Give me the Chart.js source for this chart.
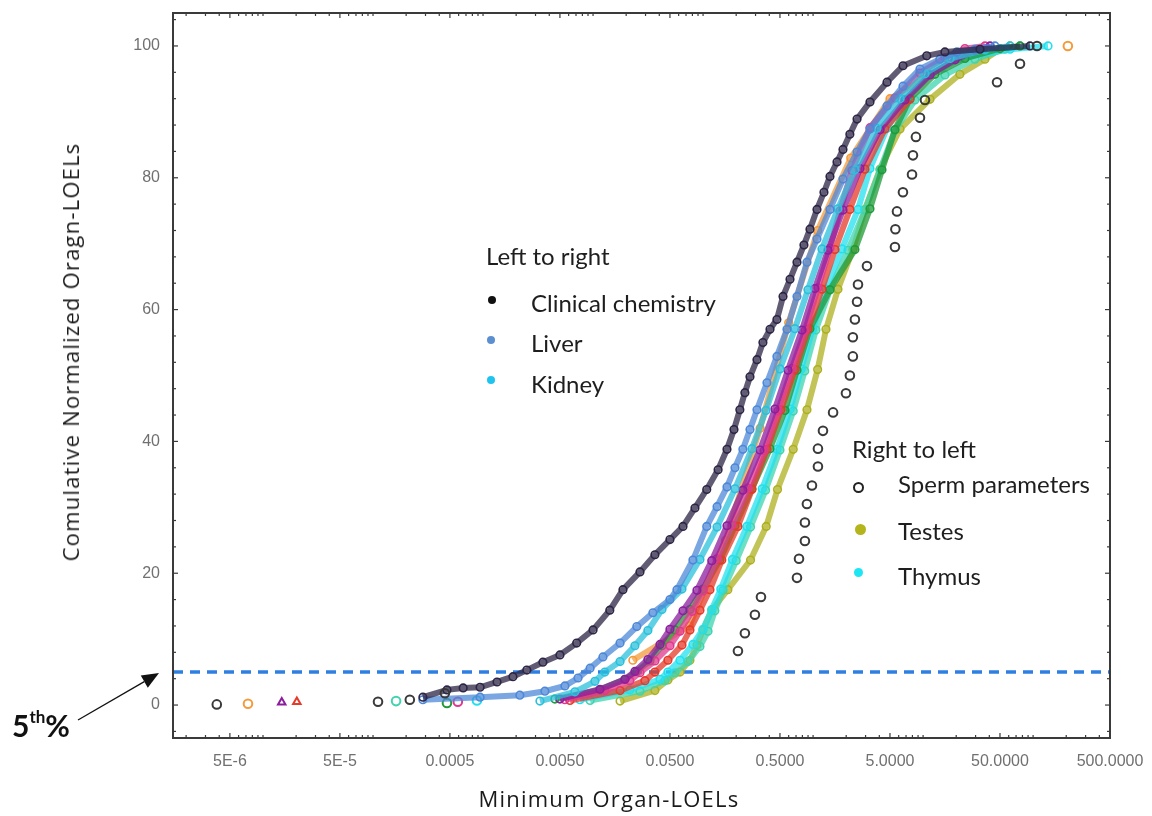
<!DOCTYPE html>
<html>
<head>
<meta charset="utf-8">
<script src="https://cdn.jsdelivr.net/npm/chart.js@4.4.1/dist/chart.umd.min.js"></script>
<style>
html,body{margin:0;padding:0;background:#fff;}
#wrap{position:relative;width:1152px;height:816px;overflow:hidden;background:#fff;}
canvas{position:absolute;left:0;top:0;}
.t{position:absolute;white-space:nowrap;color:#1e1e1e;line-height:1;}
.lg{font-family:Lato,sans-serif;font-size:24px;}
.ax{font-family:"Open Sans",sans-serif;font-size:22px;letter-spacing:1.2px;color:#1a1a1a;}
.dot{position:absolute;width:8px;height:8px;border-radius:50%;}
.ring{position:absolute;width:11px;height:11px;border-radius:50%;border:2px solid #222;box-sizing:border-box;}
</style>
</head>
<body>
<div id="wrap">
<canvas id="c" width="1152" height="816"></canvas>

<div class="t ax" style="left:609px;top:787px;transform:translateX(-50%);">Minimum Organ-LOELs</div>
<div class="t ax" style="left:70px;top:352px;transform:translate(-50%,-50%) rotate(-90deg);">Comulative Normalized Oragn-LOELs</div>

<div class="t lg" style="left:486px;top:244px">Left to right</div>
<div class="dot" style="left:488px;top:296px;background:#111"></div>
<div class="t lg" style="left:531px;top:291px">Clinical chemistry</div>
<div class="dot" style="left:487px;top:336px;background:#5b8fd0"></div>
<div class="t lg" style="left:531px;top:331px">Liver</div>
<div class="dot" style="left:487px;top:376px;background:#1fc3f0"></div>
<div class="t lg" style="left:531px;top:372px">Kidney</div>

<div class="t lg" style="left:852px;top:437px">Right to left</div>
<div class="ring" style="left:853px;top:482px"></div>
<div class="t lg" style="left:898px;top:472px">Sperm parameters</div>
<div class="dot" style="left:855px;top:524px;width:11px;height:11px;background:#b4b41c"></div>
<div class="t lg" style="left:898px;top:519px">Testes</div>
<div class="dot" style="left:854px;top:568px;width:9px;height:9px;background:#1ce6f4"></div>
<div class="t lg" style="left:898px;top:564px">Thymus</div>

<div class="t" style="left:12px;top:710px;font-family:Lato,sans-serif;font-weight:bold;font-size:30px;color:#111;">5<span style="font-size:17px;position:relative;top:-14px;">th</span>%</div>
</div>

<script>
// ---------- axis settings ----------
const X_MIN = 1.52e-6, X_MAX = 500, Y_MIN = -5, Y_MAX = 105;
const xTickValues = [5e-6, 5e-5, 5e-4, 5e-3, 0.05, 0.5, 5, 50, 500];
const xTickLabels = ['5E-6', '5E-5', '0.0005', '0.0050', '0.0500', '0.5000', '5.0000', '50.0000', '500.0000'];
const yTickValues = [0, 20, 40, 60, 80, 100];
const FIFTH = 5;

// ---------- data: [x, cumulative %] ----------
const sperm = [[0.2075,8.2],[0.240,10.9],[0.296,13.7],[0.336,16.4],[0.714,19.3],[0.745,22.2],[0.843,24.9],[0.843,27.7],[0.879,30.5],[0.977,33.3],[1.107,36.2],[1.107,38.9],[1.23,41.6],[1.52,44.4],[1.99,47.3],[2.16,50.0],[2.30,52.9],[2.30,55.8],[2.40,58.5],[2.51,61.2],[2.56,63.8],[3.09,66.6],[5.55,69.5],[5.60,72.2],[5.79,74.9],[6.56,77.8],[7.93,80.5],[8.09,83.4],[8.61,86.2],[9.37,89.1],[10.4,91.8],[47.0,94.5],[76.0,97.3],[108.5,100]];
const spermTail = [[3.8e-6,0.1],[1.11e-4,0.5],[2.16e-4,0.8],[4.5e-4,1.8]];

const clinical = [[2.84e-4,1.2],[4.7e-4,2.3],[6.6e-4,2.6],[9.4e-4,2.7],[1.34e-3,3.5],[1.87e-3,4.3],[2.5e-3,5.3],[3.5e-3,6.5],[5.0e-3,7.6],[7.1e-3,9.4],[0.0100,11.4],[0.0142,14.4],[0.0187,17.5],[0.0267,20.2],[0.0365,22.8],[0.050,25.1],[0.0657,27.1],[0.0844,29.9],[0.108,32.7],[0.137,35.7],[0.165,38.8],[0.191,41.8],[0.216,44.8],[0.240,47.4],[0.267,49.8],[0.309,52.4],[0.350,55.0],[0.406,57.0],[0.469,58.5],[0.533,62.0],[0.617,64.6],[0.714,67.2],[0.826,69.8],[0.937,72.2],[1.085,75.2],[1.256,77.8],[1.424,80.2],[1.65,82.4],[1.87,84.3],[2.16,86.6],[2.51,88.9],[3.29,91.5],[4.70,94.5],[6.57,97.0],[10.8,98.5],[15.8,99.1],[32.9,99.5],[93.7,100]];

const liver = [[2.84e-4,0.8],[9.4e-4,1.2],[2.16e-3,1.5],[3.65e-3,2.1],[5.55e-3,2.9],[7.3e-3,4.1],[9.4e-3,5.6],[0.0123,7.3],[0.0176,9.4],[0.025,11.9],[0.035,14.0],[0.05,16.0],[0.0579,17.5],[0.0809,22.0],[0.108,27.1],[0.134,30.1],[0.165,33.1],[0.195,36.0],[0.230,38.8],[0.267,41.8],[0.309,44.8],[0.381,48.9],[0.469,52.9],[0.579,57.0],[0.714,62.0],[0.880,67.2],[1.085,70.7],[1.424,75.2],[1.87,79.8],[2.51,83.9],[3.29,87.4],[4.70,90.9],[6.57,93.9],[9.37,96.5],[14.2,98.0],[20.3,99.1],[29.6,99.5],[45.0,100]];

const kidney = [[3.29e-3,0.6],[6.84e-3,2.0],[0.0104,3.6],[0.0128,5.0],[0.0176,6.6],[0.0240,9.0],[0.0315,11.3],[0.0423,14.5],[0.0643,17.6],[0.0937,22.1],[0.134,27.0],[0.195,32.8],[0.278,38.9],[0.373,44.7],[0.5,51.0],[0.684,57.1],[0.898,63.0],[1.204,69.2],[1.684,75.3],[2.40,81.2],[3.81,87.5],[6.17,92.0],[10.4,95.8],[17.6,98.1],[36.5,99.4],[61.7,100]];

const magenta = [[5e-3,0.9],[0.01155,2.4],[0.0195,3.9],[0.0240,5.1],[0.0315,6.9],[0.0406,9.2],[0.05,11.5],[0.0657,14.3],[0.0880,17.4],[0.120,21.9],[0.165,27.2],[0.230,32.6],[0.329,38.7],[0.450,44.9],[0.591,50.8],[0.793,56.9],[1.04,63.2],[1.366,69.0],[1.87,75.1],[2.67,81.4],[4.06,87.3],[6.84,91.8],[11.55,95.6],[19.5,97.9],[29.6,99.3],[40.6,100]];
const magentaTail = [[1.48e-5,0.4]];

const pink = [[5.55e-3,0.8],[0.0128,2.2],[0.0216,3.7],[0.0267,4.9],[0.0365,6.7],[0.05,9.0],[0.0617,11.2],[0.0793,14.2],[0.0998,17.3],[0.134,22.2],[0.183,27.3],[0.256,32.9],[0.358,38.6],[0.479,44.6],[0.643,51.1],[0.844,56.8],[1.108,63.3],[1.424,69.3],[1.756,75.0],[2.257,81.1],[3.29,87.6],[5.55,92.1],[9.37,95.9],[15.8,98.2],[24.0,99.6],[36.5,100]];
const pinkTail = [[5.9e-4,0.5]];

const red = [[6.17e-3,0.7],[0.0176,2.2],[0.0296,3.7],[0.0365,5.0],[0.0479,6.8],[0.0643,9.1],[0.0760,11.4],[0.0937,14.4],[0.1155,17.5],[0.148,22.0],[0.2075,27.1],[0.278,32.7],[0.381,38.8],[0.510,44.8],[0.684,50.9],[0.898,57.0],[1.204,63.1],[1.581,69.1],[2.16,75.2],[2.96,81.3],[4.50,87.4],[7.60,91.9]];
const redTail = [[2.03e-5,0.5]];

const green = [[4.5e-3,0.9],[0.01155,2.3],[0.0195,3.9],[0.025,5.1],[0.0329,6.7],[0.0423,9.0],[0.0555,11.4],[0.0760,14.5],[0.0998,17.6],[0.142,22.0],[0.195,27.2],[0.278,32.8],[0.406,38.9],[0.555,44.7],[0.714,50.8],[0.937,57.1],[1.424,63.0],[2.40,69.1],[3.29,75.3],[4.23,81.2],[5.55,87.3],[7.60,92.0],[12.8,95.7],[24.0,98.1],[50,99.6],[76.0,100]];
const greenTail = [[4.7e-4,0.3]];

const thymus = [[7.6e-3,0.8],[0.0216,2.3],[0.0406,3.9],[0.0479,5.0],[0.0617,6.8],[0.0809,9.2],[0.0998,11.5],[0.120,14.5],[0.145,17.6],[0.185,22.1],[0.250,27.1],[0.345,32.8],[0.47,38.8],[0.62,44.9],[0.78,51.0],[0.99,57.0],[1.31,63.1],[1.83,69.2],[2.56,75.2],[3.29,81.4],[4.70,87.5],[6.84,91.9],[11.55,95.7],[21.6,98.1],[61.7,99.5],[136.6,100]];
const thymusTail = [[8.8e-4,0.7]];

const teal = [[9.4e-3,0.7],[0.0267,2.1],[0.0450,3.7],[0.0555,4.9],[0.0729,6.6],[0.0937,8.9],[0.111,11.2],[0.128,14.3],[0.152,17.4],[0.200,21.9],[0.270,27.0],[0.370,32.6],[0.50,38.7],[0.66,44.6],[0.84,50.7],[1.06,56.9],[1.424,63.0],[2.075,69.0],[2.96,75.1],[4.06,81.2],[5.55,87.2],[8.43,91.8],[15.8,95.6],[29.6,98.0],[55.5,99.5],[76.0,100]];
const tealTail = [[1.62e-4,0.6]];

const testes = [[0.0176,0.6],[0.0365,2.2],[0.0479,3.8],[0.0617,5.0],[0.0760,6.8],[0.0880,9.1],[0.0998,11.4],[0.120,14.4],[0.168,17.5],[0.270,22.0],[0.375,27.1],[0.475,32.7],[0.66,38.8],[0.88,44.8],[1.10,50.9],[1.31,57.0],[1.684,63.1],[2.30,69.1],[2.96,75.2],[4.06,81.3],[6.17,87.4],[11.55,91.9],[21.6,95.7],[36.5,98.0],[50,99.5],[61.7,100]];

const orange = [[0.0230,6.8],[0.075,12],[0.16,25],[0.33,42],[0.6,58],[1.1,72],[2.2,83],[5.0,92],[20,98]];
const orangeTail = [[7.3e-6,0.2],[207,100]];

// ---------- series styling (index 0 drawn on top) ----------
const series = [
  {name:'Sperm parameters', pts:sperm, tail:spermTail, color:'#3a3a3a', line:false},
  {name:'Clinical chemistry', pts:clinical, tail:[], color:'#2c2545', line:true},
  {name:'Liver', pts:liver, tail:[], color:'#4d88d8', line:true},
  {name:'Kidney', pts:kidney, tail:[], color:'#2bc0dc', line:true},
  {name:'Organ A', pts:magenta, tail:magentaTail, tailStyle:'triangle', color:'#8c1e9e', line:true},
  {name:'Organ B', pts:pink, tail:pinkTail, color:'#e1388f', line:true},
  {name:'Organ C', pts:red, tail:redTail, tailStyle:'triangle', color:'#e63a2a', line:true},
  {name:'Organ D', pts:green, tail:greenTail, color:'#209a38', line:true},
  {name:'Thymus', pts:thymus, tail:thymusTail, color:'#23e0ef', line:true},
  {name:'Organ E', pts:teal, tail:tealTail, color:'#3fd4b0', line:true},
  {name:'Testes', pts:testes, tail:[], color:'#adb01f', line:true},
  {name:'Organ F', pts:orange, tail:orangeTail, color:'#f39b3b', line:true}
];

function hexA(hex, a){
  const n = parseInt(hex.slice(1),16);
  return 'rgba(' + ((n>>16)&255) + ',' + ((n>>8)&255) + ',' + (n&255) + ',' + a + ')';
}
const toXY = a => a.map(p => ({x:p[0], y:p[1]}));

const datasets = [];
series.forEach(s => {
  datasets.push({
    label: s.name, data: toXY(s.pts), showLine: s.line,
    borderColor: s.line ? hexA(s.color, 0.75) : s.color,
    borderWidth: s.line ? 6 : 0, tension: 0,
    pointStyle: 'circle', pointRadius: s.line ? 3.8 : 4.3,
    pointBorderColor: s.color, pointBorderWidth: s.line ? 1.6 : 2,
    pointBackgroundColor: 'rgba(255,255,255,0)'
  });
  if (s.tail.length) {
    datasets.push({
      label: s.name + ' (low)', data: toXY(s.tail), showLine: false,
      pointStyle: s.tailStyle || 'circle', pointRadius: 4.3,
      pointBorderColor: s.color, pointBorderWidth: 2,
      pointBackgroundColor: 'rgba(255,255,255,0)'
    });
  }
});
datasets.push({
  label: '5th percentile', data: [{x:X_MIN, y:FIFTH}, {x:X_MAX, y:FIFTH}],
  showLine: true, borderColor: '#2f7fe3', borderWidth: 3.5, borderDash: [10, 7],
  pointRadius: 0, tension: 0
});

// ---------- decorations: frame, inward ticks, arrow ----------
const decor = {
  id: 'decor',
  afterDraw(chart){
    const {ctx, chartArea:a, scales} = chart;
    const x = scales.x, y = scales.y;
    ctx.save();
    ctx.strokeStyle = '#3a3a3a';
    ctx.lineWidth = 1.2;
    const seg = (x1,y1,x2,y2) => { ctx.beginPath(); ctx.moveTo(x1,y1); ctx.lineTo(x2,y2); ctx.stroke(); };
    for (let e = -7; e <= 3; e++) {
      for (let m = 1; m <= 9; m++) {
        const v = m * Math.pow(10, e);
        if (v < X_MIN || v > X_MAX) continue;
        const px = x.getPixelForValue(v);
        const len = (m === 5) ? 5 : 3;
        seg(px, a.bottom, px, a.bottom - len);
        seg(px, a.top, px, a.top + len);
      }
    }
    for (let v = -4; v <= 104; v += 4) {
      const py = y.getPixelForValue(v);
      const len = (v % 20 === 0) ? 5 : 3;
      seg(a.left, py, a.left + len, py);
      seg(a.right, py, a.right - len, py);
    }
    ctx.lineWidth = 2;
    ctx.strokeRect(a.left, a.top, a.right - a.left, a.bottom - a.top);
    // arrow to the 5th percentile line
    const tipX = a.left - 14, tipY = y.getPixelForValue(FIFTH) + 1;
    const sx = 78, sy = 720;
    const dx = tipX - sx, dy = tipY - sy, L = Math.hypot(dx, dy);
    const ux = dx / L, uy = dy / L;
    const hl = 17, hw = 7;
    const bx = tipX - ux * hl, by = tipY - uy * hl;
    ctx.strokeStyle = '#111'; ctx.fillStyle = '#111'; ctx.lineWidth = 1.3;
    seg(sx, sy, bx, by);
    ctx.beginPath();
    ctx.moveTo(tipX, tipY);
    ctx.lineTo(bx - uy * hw, by + ux * hw);
    ctx.lineTo(bx + uy * hw, by - ux * hw);
    ctx.closePath(); ctx.fill();
    ctx.restore();
  }
};

Chart.defaults.font.family = '"Liberation Sans", Arial, sans-serif';

new Chart(document.getElementById('c'), {
  type: 'scatter',
  data: { datasets },
  options: {
    responsive: false, animation: false,
    layout: { padding: { top: 13, right: 42, bottom: 0, left: 0 } },
    plugins: { legend: { display: false }, tooltip: { enabled: false } },
    scales: {
      x: {
        type: 'logarithmic', min: X_MIN, max: X_MAX,
        grid: { display: false, drawTicks: false }, border: { display: false },
        afterBuildTicks: s => { s.ticks = xTickValues.map(v => ({ value: v })); },
        afterFit: s => { s.height = 78; s.paddingLeft = 0; s.paddingRight = 0; },
        ticks: {
          autoSkip: false, maxRotation: 0, padding: 14, color: '#707070',
          font: { size: 16 },
          callback: (v, i) => xTickLabels[i]
        }
      },
      y: {
        type: 'linear', min: Y_MIN, max: Y_MAX,
        grid: { display: false, drawTicks: false }, border: { display: false },
        afterBuildTicks: s => { s.ticks = yTickValues.map(v => ({ value: v })); },
        afterFit: s => { s.width = 173; s.paddingTop = 0; s.paddingBottom = 0; },
        ticks: { padding: 13, color: '#707070', font: { size: 16 }, callback: v => String(v) }
      }
    }
  },
  plugins: [decor]
});
</script>
</body>
</html>
